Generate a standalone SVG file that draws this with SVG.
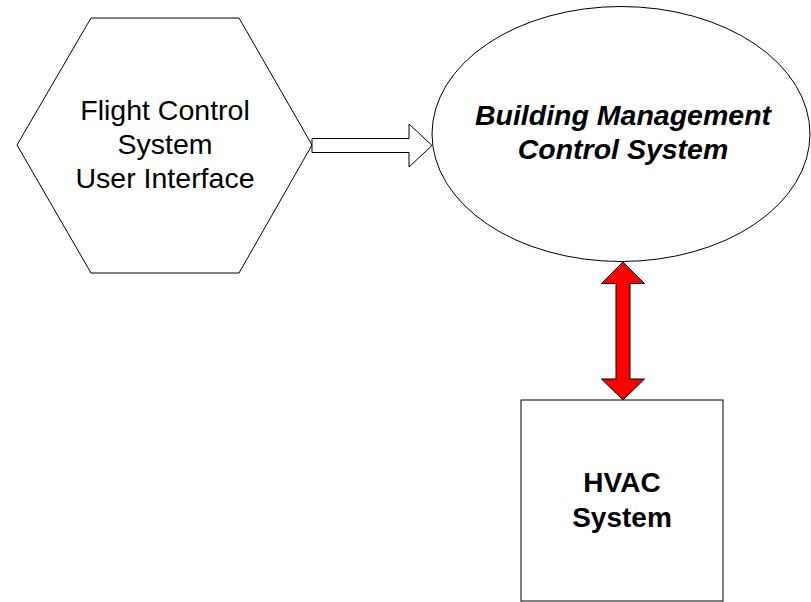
<svg xmlns="http://www.w3.org/2000/svg" width="811" height="602" viewBox="0 0 811 602">
<style>
.shape{fill:#fff;stroke:#000;stroke-width:1}
.t{font-family:"Liberation Sans",Arial,sans-serif;font-size:28.5px;text-anchor:middle;fill:#000}
.b{font-weight:bold;font-size:28px}
.bi{font-weight:bold;font-style:italic}
</style>
<rect width="811" height="602" fill="#fff"/>
<g id="fcs-ui">
<polygon class="shape" points="17,145 91,18 239,18 312,145 239,273 91,273"/>
<text class="t" x="165" y="120">Flight Control</text>
<text class="t" x="165" y="154">System</text>
<text class="t" x="165" y="188">User Interface</text>
</g>
<g id="bmcs">
<ellipse class="shape" cx="621" cy="134" rx="189" ry="127.5"/>
<text class="t bi" x="623" y="124.5">Building Management</text>
<text class="t bi" x="623" y="159">Control System</text>
</g>
<g id="hvac">
<rect class="shape" x="521" y="400" width="202" height="201" stroke-width="1.5"/>
<text class="t b" x="622" y="492">HVAC</text>
<text class="t b" x="622" y="527">System</text>
</g>
<g id="connectors">
<polygon class="shape" points="312,138.5 409,138.5 409,124 432,145.5 409,167 409,152.5 312,152.5"/>
<polygon fill="#ff0000" stroke="#000" stroke-width="1" points="623,262 644.5,283.5 630,283.5 630,379 644.5,379 623,400 601.5,379 616,379 616,283.5 601.5,283.5"/>
</g>
</svg>
